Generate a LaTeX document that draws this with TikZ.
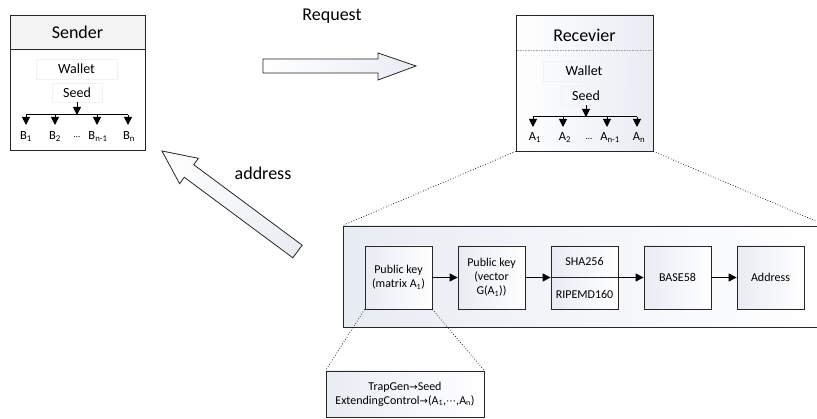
\documentclass[tikz,border=0pt]{standalone}
\usepackage{fontspec}
\setmainfont{Carlito}
\newfontfamily\symfont{DejaVu Sans}
\usetikzlibrary{arrows.meta}

\definecolor{shadeblue}{RGB}{232,236,243}
\definecolor{titlegray}{RGB}{243,243,243}

\tikzset{
  frame/.style={draw=black!85, line width=0.8pt},
  stepbox/.style={frame, minimum width=67pt, minimum height=63pt, inner sep=1pt,
    align=center, font=\fontsize{12}{14}\selectfont, left color=shadeblue, right color=white},
  flow/.style={-{Triangle[length=8pt,width=8pt]}, line width=1pt},
  zoomline/.style={dotted, line width=0.7pt},
  ghost/.style={draw=black!5, line width=0.5pt, inner sep=0pt, font=\fontsize{14}{16}\selectfont},
  title/.style={font=\fontsize{18}{20}\selectfont},
  keylabel/.style={font=\fontsize{12.5}{14}\selectfont, inner sep=0pt},
  bigarrow/.style={draw=black!85, line width=0.8pt, left color=white, right color=shadeblue},
}

\begin{document}
\begin{tikzpicture}[x=1pt, y=-1pt]
\useasboundingbox (0,0) rectangle (817,419);
\clip (0,0) rectangle (817,419);

% ---------- sender wallet ----------
\node[frame, fill=white, minimum width=135pt, minimum height=135pt, inner sep=0pt] (sender) at (77.5,82.5) {};
\fill[titlegray] (10.4,15.4) rectangle (144.6,49);
\draw[frame] (10,15) rectangle (145,150);
\draw[frame] (10,49) -- (145,49);
\node[title] (sendertitle) at (77.5,32) {Sender};
\node[ghost, minimum width=81pt, minimum height=20pt] (swallet) at (76.5,69) {Wallet};
\node[ghost, minimum width=50pt, minimum height=19pt] (sseed) at (77,92.5) {Seed};
\coordinate (sbar) at (77,115);
\coordinate (sbarl) at (26,115);
\coordinate (sbarr) at (128,115);
\draw[flow] (sseed.south) -- (sbar);
\draw[line width=1pt] (sbarl) -- (sbarr);
\node[keylabel, anchor=north] (b1) at (26,131) {B\textsubscript{1}};
\node[keylabel, anchor=north] (b2) at (55,131) {B\textsubscript{2}};
\node[keylabel, anchor=north] (bn1) at (98,131) {B\textsubscript{n-1}};
\node[keylabel, anchor=north] (bn) at (129,131) {B\textsubscript{n}};
\node[keylabel, font=\fontsize{9}{10}\selectfont] (bdots) at (77,137) {\dots};
\draw[flow] (sbarl) -- (26,125);
\draw[flow] (55,115) -- (55,125);
\draw[flow] (97,115) -- (97,125);
\draw[flow] (128,115) -- (128,125);

% ---------- receiver wallet ----------
\node[frame, left color=white, right color=shadeblue, minimum width=137pt, minimum height=136pt, inner sep=0pt] (recv) at (584.5,83) {};
\draw[densely dotted, black!35, line width=0.6pt] (516.5,50) -- (652.5,50);
\node[title] (recvtitle) at (584.5,35) {Recevier};
\node[ghost, minimum width=82pt, minimum height=20pt] (rwallet) at (584,71) {Wallet};
\node[ghost, minimum width=50pt, minimum height=19pt] (rseed) at (586,95.5) {Seed};
\coordinate (rbar) at (586,117);
\coordinate (rbarl) at (533,117);
\coordinate (rbarr) at (637,117);
\draw[flow] (rseed.south) -- (rbar);
\draw[line width=1pt] (rbarl) -- (rbarr);
\node[keylabel, anchor=north] (a1) at (535,132) {A\textsubscript{1}};
\node[keylabel, anchor=north] (a2) at (565,132) {A\textsubscript{2}};
\node[keylabel, anchor=north] (an1) at (610,132) {A\textsubscript{n-1}};
\node[keylabel, anchor=north] (an) at (639,132) {A\textsubscript{n}};
\node[keylabel, font=\fontsize{9}{10}\selectfont] (adots) at (589,139) {\dots};
\draw[flow] (rbarl) -- (533,127);
\draw[flow] (563,117) -- (563,127);
\draw[flow] (607,117) -- (607,127);
\draw[flow] (rbarr) -- (637,127);

% ---------- block arrows ----------
\draw[bigarrow] (263,59) -- (378,59) -- (378,53) -- (416,66) -- (378,80) -- (378,73) -- (263,73) -- cycle;
\node[title] (request) at (332,16) {Request};
\draw[bigarrow] (162,151) -- (198.4,158.3) -- (193.7,164.7) -- (302.2,245.2) -- (292.8,257.8)
  -- (184.3,177.3) -- (179.6,183.7) -- cycle;
\node[title] (address) at (263,173) {address};

% ---------- address derivation panel ----------
\node[frame, left color=shadeblue, right color=white, minimum width=483pt, minimum height=101pt, inner sep=0pt] (panel) at (584.5,276.5) {};
\draw[zoomline] (recv.south west) -- (panel.north west);
\draw[zoomline] (recv.south east) -- (panel.north east);

\node[stepbox] (pk) at (398.5,277.5) {Public key\\(matrix A\textsubscript{1})};
\node[stepbox] (vec) at (491.5,277.5) {Public key\\(vector\\G(A\textsubscript{1}))};
\node[stepbox] (hash) at (584.5,277.5) {};
\draw[frame] (hash.west) -- (hash.east);
\node[keylabel, font=\fontsize{12}{14}\selectfont] (sha) at (584.5,261) {SHA256};
\node[keylabel, font=\fontsize{12}{14}\selectfont] (ripe) at (584.5,294) {RIPEMD160};
\node[stepbox] (b58) at (677.5,277.5) {BASE58};
\node[stepbox] (addr) at (770.5,277.5) {Address};
\draw[flow] (pk) -- (vec);
\draw[flow] (vec) -- (hash);
\draw[flow] (hash) -- (b58);
\draw[flow] (b58) -- (addr);

% ---------- key generation detail ----------
\node[frame, left color=shadeblue, right color=white, minimum width=158pt, minimum height=46pt,
  align=center, font=\fontsize{12}{14}\selectfont, inner sep=0pt] (keygen) at (405,394)
  {TrapGen{\symfont\fontsize{10}{12}\selectfont →}Seed\\ExtendingControl{\symfont\fontsize{10}{12}\selectfont →}(A\textsubscript{1},{\symfont\fontsize{10}{12}\selectfont ⋯},A\textsubscript{n})};
\draw[zoomline] (pk.south west) -- (keygen.north west);
\draw[zoomline] (pk.south east) -- (keygen.north east);
\end{tikzpicture}
\end{document}
